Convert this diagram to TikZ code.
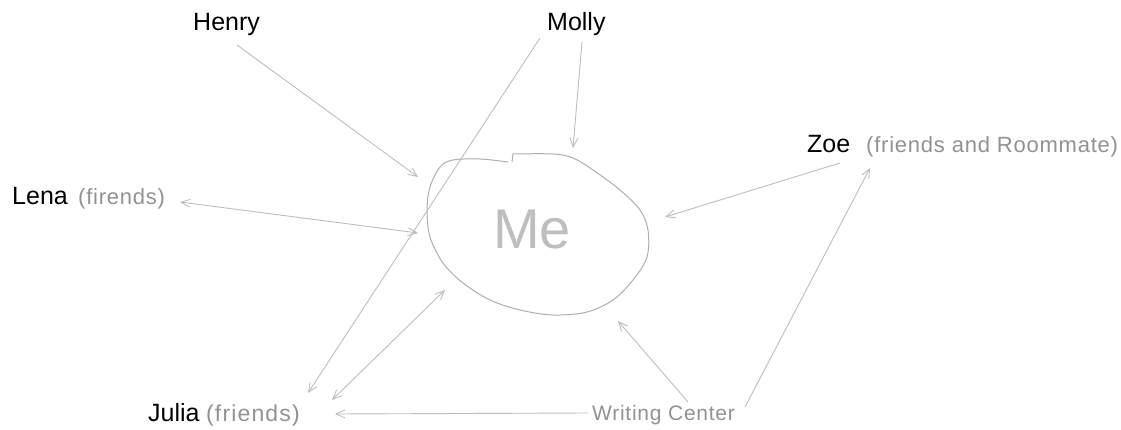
\documentclass[tikz,border=0pt]{standalone}
\usepackage{fontspec}
\setmainfont{Liberation Sans}
\newfontfamily\notefont[LetterSpace=3.5]{Liberation Sans}
\newfontfamily\notefontwide[LetterSpace=5]{Liberation Sans}
\usetikzlibrary{arrows.meta}
\definecolor{pencil}{HTML}{BEBEBE}
\definecolor{graytext}{HTML}{929292}
\tikzset{
  person/.style={anchor=base west, inner sep=0pt, text=black, font=\fontsize{25}{30}\selectfont},
  note/.style={anchor=base west, inner sep=0pt, text=graytext, font=\notefont\fontsize{22}{26}\selectfont},
  link/.style={draw=pencil, line width=0.9pt, -{Straight Barb[length=9pt,width=8pt,line width=0.9pt]}},
  twoway/.style={draw=pencil, line width=0.9pt, {Straight Barb[length=9pt,width=8pt,line width=0.9pt]}-{Straight Barb[length=9pt,width=8pt,line width=0.9pt]}},
  blob/.style={draw=pencil!92!black, line width=1pt}
}
\begin{document}
\begin{tikzpicture}[x=1pt,y=-1pt]
\useasboundingbox[fill=white] (0,0) rectangle (1121,430);

% labels
\node[person] (henry) at (193,31) {Henry};
\node[person] (molly) at (547,31) {Molly};
\node[person] (lena) at (12,205) {Lena};
\node[note] (lenanote) at (78,205) {(firends)};
\node[person] (zoe) at (807,153) {Zoe};
\node[note] (zoenote) at (866,153) {(friends and Roommate)};
\node[person] (julia) at (148,421) {Julia};
\node[note, font=\notefontwide\fontsize{23}{27}\selectfont] (julianote) at (206,421) {(friends)};
\node[note, font=\notefont\fontsize{21}{25}\selectfont] (wc) at (592,420) {Writing Center};

% the "Me" blob
\draw[blob] plot[smooth, tension=0.55] coordinates {
 (508,162) (480,159) (453,160) (440,167) (430,187) (427,210) (430,237) (443,263)
 (463,283) (490,300) (520,310) (553,315) (587,312) (613,300) (633,280) (647,257)
 (648,230) (640,210) (620,190) (593,170) (573,158) (553,154) (513,154)}
 -- (512,162);
\node[text=pencil, font=\fontsize{56}{60}\selectfont, inner sep=0pt] (me) at (532,230) {Me};

% connector end points
\coordinate (henryS) at (237,45);   \coordinate (henryE) at (418,177);
\coordinate (mollyS) at (582,42);   \coordinate (mollyE) at (573,148);
\coordinate (mollyL) at (540,38);   \coordinate (juliaA) at (308,393);
\coordinate (lenaA) at (180,202);   \coordinate (meLena) at (418,233);
\coordinate (meJulia) at (445,290); \coordinate (juliaB) at (332,400);
\coordinate (zoeS) at (840,163);    \coordinate (meZoe) at (665,217);
\coordinate (wcZ) at (745,407);     \coordinate (zoeE) at (870,168);
\coordinate (wcM) at (688,402);     \coordinate (meWc) at (618,321);
\coordinate (wcJ) at (588,413);     \coordinate (juliaC) at (335,414);

% connectors
\draw[link] (henryS) -- (henryE);
\draw[link] (mollyS) -- (mollyE);
\draw[link] (mollyL) -- (juliaA);
\draw[twoway] (lenaA) -- (meLena);
\draw[twoway] (meJulia) -- (juliaB);
\draw[link] (zoeS) -- (meZoe);
\draw[link] (wcZ) -- (zoeE);
\draw[link] (wcM) -- (meWc);
\draw[link] (wcJ) -- (juliaC);
\end{tikzpicture}
\end{document}
